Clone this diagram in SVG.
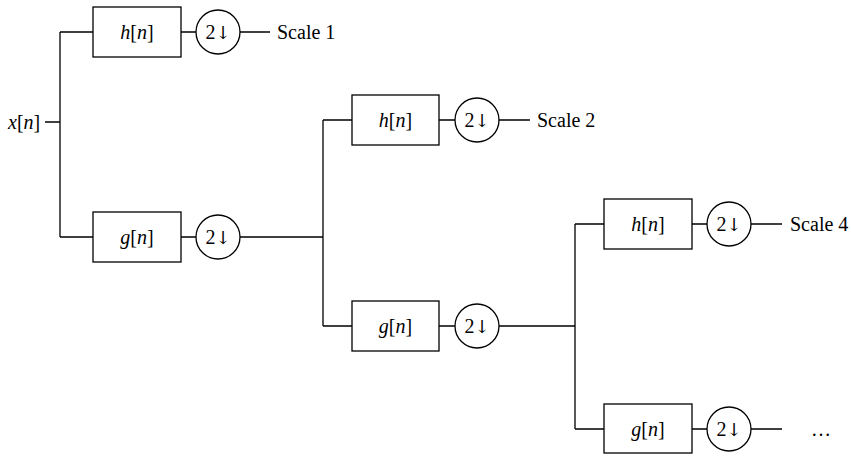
<svg xmlns="http://www.w3.org/2000/svg" width="851" height="456" viewBox="0 0 851 456">
<style>
.box{fill:#fff;stroke:#000;stroke-width:1.3}
.c{fill:#fff;stroke:#000;stroke-width:1.3}
.w{fill:none;stroke:#000;stroke-width:1.3}
text{font-family:"Liberation Serif","DejaVu Serif",serif;font-size:20px;fill:#000}
.m{text-anchor:middle}
.i{font-style:italic}
.a{font-family:"DejaVu Serif",serif;font-size:18px}
</style>
<rect width="851" height="456" fill="#fff"/>
<g id="connectors">
<path class="w" d="M45 122H60M60 32V237M60 32H93M60 237H93"/>
<path class="w" d="M181 32H196M240 32H270"/>
<path class="w" d="M181 237H196M240 237H323M323 120V326M323 120H352M323 326H352"/>
<path class="w" d="M439 120H455M499 120H530"/>
<path class="w" d="M439 326H455M499 326H575M575 224V429M575 224H604M575 429H604"/>
<path class="w" d="M692 224H707M751 224H782"/>
<path class="w" d="M692 429H707M751 429H782"/>
</g>
<g id="input"><text x="8" y="129"><tspan class="i">x</tspan>[<tspan class="i">n</tspan>]</text></g>
<g id="h1"><rect class="box" x="93" y="7" width="88" height="50"/><text class="m" x="137" y="39"><tspan class="i">h</tspan>[<tspan class="i">n</tspan>]</text></g>
<g id="d1"><circle class="c" cx="218" cy="32" r="22"/><text class="m" x="218" y="39">2<tspan class="a">↓</tspan></text></g>
<g id="s1"><text x="277" y="39">Scale 1</text></g>
<g id="g1"><rect class="box" x="93" y="212" width="88" height="50"/><text class="m" x="137" y="244"><tspan class="i">g</tspan>[<tspan class="i">n</tspan>]</text></g>
<g id="d2"><circle class="c" cx="218" cy="237" r="22"/><text class="m" x="218" y="244">2<tspan class="a">↓</tspan></text></g>
<g id="h2"><rect class="box" x="352" y="95" width="87" height="50"/><text class="m" x="395.5" y="127"><tspan class="i">h</tspan>[<tspan class="i">n</tspan>]</text></g>
<g id="d3"><circle class="c" cx="477" cy="120" r="22"/><text class="m" x="477" y="127">2<tspan class="a">↓</tspan></text></g>
<g id="s2"><text x="537" y="127">Scale 2</text></g>
<g id="g2"><rect class="box" x="352" y="301" width="87" height="50"/><text class="m" x="395.5" y="333"><tspan class="i">g</tspan>[<tspan class="i">n</tspan>]</text></g>
<g id="d4"><circle class="c" cx="477" cy="326" r="22"/><text class="m" x="477" y="333">2<tspan class="a">↓</tspan></text></g>
<g id="h3"><rect class="box" x="604" y="199" width="88" height="50"/><text class="m" x="648" y="231"><tspan class="i">h</tspan>[<tspan class="i">n</tspan>]</text></g>
<g id="d5"><circle class="c" cx="729" cy="224" r="22"/><text class="m" x="729" y="231">2<tspan class="a">↓</tspan></text></g>
<g id="s4"><text x="790" y="231">Scale 4</text></g>
<g id="g3"><rect class="box" x="604" y="404" width="88" height="49"/><text class="m" x="648" y="436"><tspan class="i">g</tspan>[<tspan class="i">n</tspan>]</text></g>
<g id="d6"><circle class="c" cx="729" cy="429" r="22"/><text class="m" x="729" y="436">2<tspan class="a">↓</tspan></text></g>
<g id="dots"><text x="811" y="436">…</text></g>
</svg>
